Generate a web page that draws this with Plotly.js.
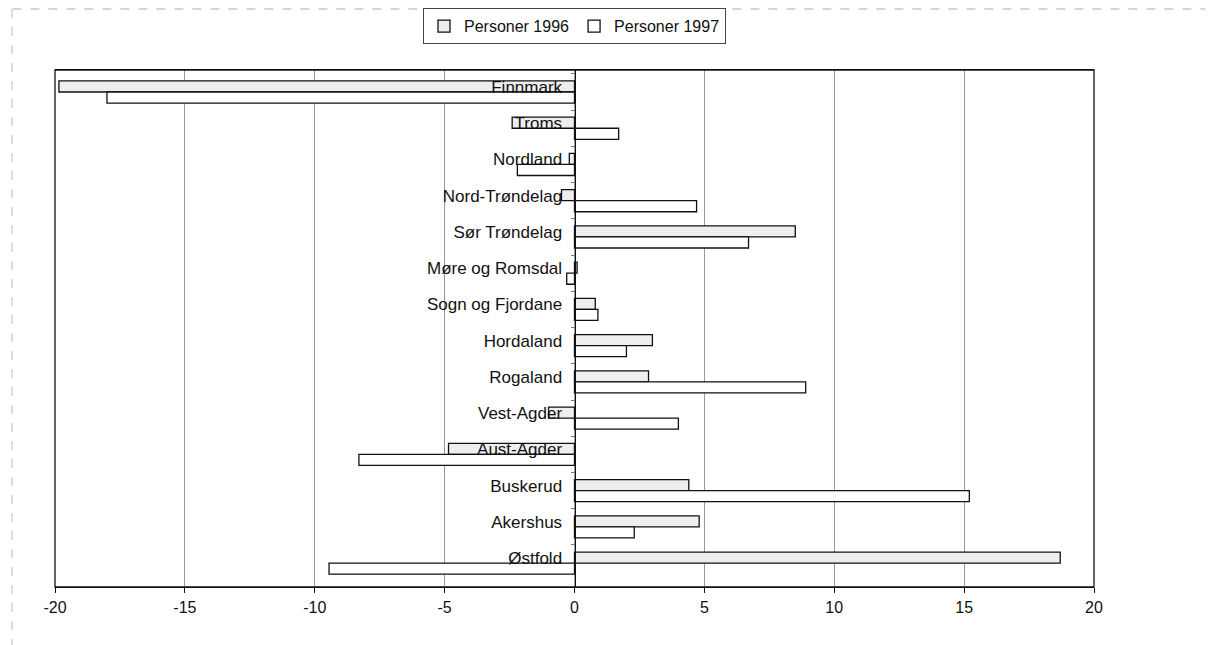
<!DOCTYPE html>
<html>
<head>
<meta charset="utf-8">
<script src="https://cdn.plot.ly/plotly-3.0.1.min.js"></script>
<style>html,body{margin:0;padding:0;background:#fff;}#chart{width:1215px;height:645px;}</style>
</head>
<body>
<div id="chart"></div>
<script>
const categories = ["Finnmark","Troms","Nordland","Nord-Trøndelag","Sør Trøndelag","Møre og Romsdal","Sogn og Fjordane","Hordaland","Rogaland","Vest-Agder","Aust-Agder","Buskerud","Akershus","Østfold"];
const personer1996 = [-19.85, -2.4, -0.2, -0.5, 8.5, 0.1, 0.8, 3.0, 2.85, -1.0, -4.85, 4.4, 4.8, 18.7];
const personer1997 = [-18.0, 1.7, -2.2, 4.7, 6.7, -0.3, 0.9, 2.0, 8.9, 4.0, -8.3, 15.2, 2.3, -9.45];
const xTicks = [-20, -15, -10, -5, 0, 5, 10, 15, 20];

const font = {family: "Liberation Sans, Arial, sans-serif", color: "#111", size: 16};

const traces = [
  {type: "bar", orientation: "h", name: "Personer 1996", y: categories, x: personer1996,
   marker: {color: "#eeeeee", line: {color: "#111", width: 1.3}}},
  {type: "bar", orientation: "h", name: "Personer 1997", y: categories, x: personer1997,
   marker: {color: "#ffffff", line: {color: "#111", width: 1.3}}}
];

const layout = {
  width: 1215, height: 645,
  margin: {l: 55, r: 121, t: 70, b: 58, autoexpand: false},
  paper_bgcolor: "#fff", plot_bgcolor: "#fff",
  font: font,
  barmode: "group", bargap: 0.39, bargroupgap: 0,
  showlegend: true,
  legend: {orientation: "h", x: 0.5, xanchor: "center", y: 1.05, yanchor: "bottom",
           bordercolor: "#444", borderwidth: 1, font: {family: font.family, size: 16, color: "#111"},
           tracegroupgap: 0, itemwidth: 30},
  xaxis: {range: [-20, 20], tickvals: xTicks, ticktext: xTicks.map(String),
          showgrid: true, gridcolor: "#999", gridwidth: 1, zeroline: false,
          showline: true, linecolor: "#111", linewidth: 1.3, mirror: true,
          ticks: "outside", ticklen: 5, tickcolor: "#111",
          tickfont: {family: font.family, size: 16, color: "#111"}, fixedrange: true},
  yaxis: {type: "category", range: [13.66, -0.607], anchor: "free", position: 0.5,
          showline: true, linecolor: "#111", linewidth: 1.3, showgrid: false, zeroline: false,
          ticks: "outside", tickson: "boundaries", ticklen: 4, tickcolor: "#777",
          ticklabelshift: 5, ticklabelstandoff: 9,
          tickfont: {family: font.family, size: 17, color: "#111"}, fixedrange: true},
  shapes: [
    {type: "rect", xref: "paper", yref: "paper", x0: 0, x1: 1, y0: 0, y1: 1,
     line: {color: "#111", width: 1.3}, fillcolor: "rgba(0,0,0,0)"},
    {type: "line", xref: "paper", yref: "paper", x0: -0.041, x1: 1.107, y0: 1.118, y1: 1.118,
     line: {color: "#aaa", width: 1, dash: "dash"}},
    {type: "line", xref: "paper", yref: "paper", x0: -0.0414, x1: -0.0414, y0: 1.118, y1: -0.12,
     line: {color: "#bbb", width: 1, dash: "dash"}}
  ]
};

Plotly.newPlot("chart", traces, layout, {displayModeBar: false, staticPlot: true});
</script>
</body>
</html>
